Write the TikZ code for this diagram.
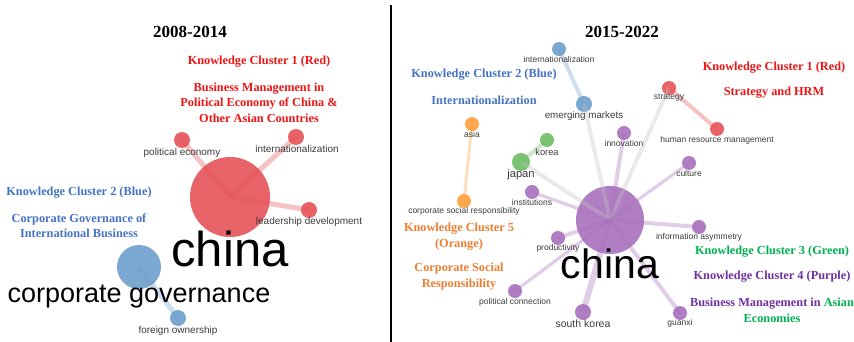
\documentclass[tikz,border=0pt]{standalone}
\usepackage{fontspec}
\setmainfont{Liberation Serif}
\setsansfont{Liberation Sans}
\usetikzlibrary{positioning}
\definecolor{kred}{RGB}{230,82,88}
\definecolor{kblue}{RGB}{108,158,204}
\definecolor{kpurple}{RGB}{168,112,188}
\definecolor{kgreen}{RGB}{108,190,98}
\definecolor{korange}{RGB}{255,158,58}
\definecolor{kgrey}{RGB}{195,195,195}
\definecolor{labgrey}{RGB}{60,60,60}
\definecolor{tred}{RGB}{240,20,20}
\definecolor{tblue}{RGB}{68,114,196}
\definecolor{torange}{RGB}{237,125,49}
\definecolor{tgreen}{RGB}{0,176,80}
\definecolor{tpurple}{RGB}{112,48,160}
\tikzset{
  kwnode/.style={circle,inner sep=0pt,minimum size=#1,fill opacity=.9},
  kwlabel/.style={font=\sffamily\fontsize{10}{10}\selectfont,text=labgrey,inner sep=0pt},
  kwlabelR/.style={font=\sffamily\fontsize{8.5}{8.5}\selectfont,text=labgrey,inner sep=0pt},
  link/.style={line width=#1,draw opacity=.35},
  link/.default=4pt,
  cluster/.style={font=\bfseries\fontsize{12.3}{15.5}\selectfont,align=center,inner sep=0pt},
  period/.style={font=\bfseries\fontsize{17}{17}\selectfont,inner sep=0pt},
  bigword/.style={font=\sffamily,inner sep=0pt}
}
\begin{document}
\begin{tikzpicture}[x=1pt,y=-1pt]
    \useasboundingbox (0,0) rectangle (854,342);
    \draw[line width=2pt] (391,5) -- (391,342);

    % 2008-2014
    \node[period] (t1) at (190,32) {2008-2014};
    \node[cluster,text=tred] (c1a) at (259,62) {Knowledge Cluster 1 (Red)};
    \node[cluster,text=tred] (c1b) at (259,102.5) {Business Management in\\Political Economy of China \&\\Other Asian Countries};
    \node[cluster,text=tblue] (c2a) at (79,193) {Knowledge Cluster 2 (Blue)};
    \node[cluster,text=tblue] (c2b) at (79,225.5) {Corporate Governance of\\International Business};

    \node[kwnode=80pt,fill=kred] (ch1) at (230,197) {};
    \node[kwnode=16pt,fill=kred] (pe) at (182,140) {};
    \node[kwnode=16pt,fill=kred] (intl1) at (296,137) {};
    \node[kwnode=16pt,fill=kred] (ld) at (309,210) {};
    \node[kwnode=44pt,fill=kblue] (cg) at (139,267) {};
    \node[kwnode=16pt,fill=kblue] (fo) at (178,318) {};

    \draw[link=5pt,kred] (ch1.center) -- (pe.center);
    \draw[link=5pt,kred] (ch1.center) -- (intl1.center);
    \draw[link=5pt,kred] (ch1.center) -- (ld.center);
    \draw[link=5pt,kblue] (cg.center) -- (fo.center);

    \node[kwlabel] (pe-l) at (182,153) {political economy};
    \node[kwlabel] (intl1-l) at (297,149) {internationalization};
    \node[kwlabel] (ld-l) at (309,222) {leadership development};
    \node[kwlabel] (fo-l) at (178,331) {foreign ownership};
    \node[bigword,font=\sffamily\fontsize{49}{49}\selectfont] (ch1-l) at (230,249) {china};
    \node[bigword,font=\sffamily\fontsize{27}{27}\selectfont] (cg-l) at (139,297) {corporate governance};

    % 2015-2022
    \node[period] (t2) at (622,32) {2015-2022};
    \node[cluster,text=tblue] (d2a) at (484,75) {Knowledge Cluster 2 (Blue)};
    \node[cluster,text=tblue] (d2b) at (484,100) {Internationalization};
    \node[cluster,text=tred] (d1a) at (774,68) {Knowledge Cluster 1 (Red)};
    \node[cluster,text=tred] (d1b) at (774,93) {Strategy and HRM};
    \node[cluster,text=torange] (d5a) at (459,236.5) {Knowledge Cluster 5\\(Orange)};
    \node[cluster,text=torange] (d5b) at (459,276.5) {Corporate Social\\Responsibility};
    \node[cluster,text=tgreen] (d3) at (772,252) {Knowledge Cluster 3 (Green)};
    \node[cluster,text=tpurple] (d4) at (772,277) {Knowledge Cluster 4 (Purple)};
    \node[cluster,text=tpurple,font=\bfseries\fontsize{12.3}{16}\selectfont] (d4b) at (772,310) {Business Management in {\color{tgreen}Asian}\\{\color{tgreen}Economies}};

    \node[kwnode=68pt,fill=kpurple] (ch2) at (610,220) {};
    \node[kwnode=14pt,fill=kblue] (intl2) at (559,49) {};
    \node[kwnode=16pt,fill=kblue] (em) at (584,104) {};
    \node[kwnode=14pt,fill=kred] (str) at (669,88) {};
    \node[kwnode=14pt,fill=kred] (hrm) at (717,129) {};
    \node[kwnode=14pt,fill=korange] (asia) at (472,124) {};
    \node[kwnode=14pt,fill=korange] (csr) at (464,201) {};
    \node[kwnode=14pt,fill=kgreen] (kor) at (547,140) {};
    \node[kwnode=18pt,fill=kgreen] (jap) at (521,162) {};
    \node[kwnode=14pt,fill=kpurple] (inno) at (624,133) {};
    \node[kwnode=14pt,fill=kpurple] (cult) at (689,163) {};
    \node[kwnode=14pt,fill=kpurple] (inst) at (532,192) {};
    \node[kwnode=14pt,fill=kpurple] (ia) at (699,227) {};
    \node[kwnode=14pt,fill=kpurple] (prod) at (558,238) {};
    \node[kwnode=14pt,fill=kpurple] (pc) at (515,291) {};
    \node[kwnode=16pt,fill=kpurple] (sk) at (583,312) {};
    \node[kwnode=14pt,fill=kpurple] (gx) at (680,313) {};

    \draw[link,kblue] (intl2.center) -- (em.center);
    \draw[link,kgrey] (ch2.center) -- (em.center);
    \draw[link,kgrey] (ch2.center) -- (str.center);
    \draw[link,kgrey] (ch2.center) -- (jap.center);
    \draw[link,kred] (str.center) -- (hrm.center);
    \draw[link=3pt,korange] (asia.center) -- (csr.center);
    \draw[link,kgreen] (kor.center) -- (jap.center);
    \foreach \k in {inno,ia,prod,gx}
        \draw[link,kpurple] (ch2.center) -- (\k.center);
    \foreach \k in {cult,inst,pc}
        \draw[link=3.2pt,kpurple] (ch2.center) -- (\k.center);
    \draw[link=6pt,kpurple] (ch2.center) -- (sk.center);

    \node[kwlabelR] (intl2-l) at (559,59) {internationalization};
    \node[kwlabelR,font=\sffamily\fontsize{9.8}{9.8}\selectfont] (em-l) at (584,116) {emerging markets};
    \node[kwlabelR] (str-l) at (669,98) {strategy};
    \node[kwlabelR] (hrm-l) at (717,140) {human resource management};
    \node[kwlabelR] (asia-l) at (472,134) {asia};
    \node[kwlabelR] (csr-l) at (464,211) {corporate social responsibility};
    \node[kwlabelR,font=\sffamily\fontsize{9.3}{9.3}\selectfont] (kor-l) at (547,152) {korea};
    \node[kwlabelR,font=\sffamily\fontsize{11.2}{11.2}\selectfont] (jap-l) at (521,175) {japan};
    \node[kwlabelR] (inno-l) at (624,143) {innovation};
    \node[kwlabelR] (cult-l) at (689,173) {culture};
    \node[kwlabelR] (inst-l) at (532,202) {institutions};
    \node[kwlabelR] (ia-l) at (699,237) {information asymmetry};
    \node[kwlabelR] (prod-l) at (558,248) {productivity};
    \node[kwlabelR] (pc-l) at (515,302) {political connection};
    \node[kwlabelR,font=\sffamily\fontsize{10.5}{10.5}\selectfont] (sk-l) at (583,324) {south korea};
    \node[kwlabelR] (gx-l) at (680,323) {guanxi};
    \node[bigword,font=\sffamily\fontsize{41}{41}\selectfont] (ch2-l) at (610,264) {china};
\end{tikzpicture}
\end{document}
